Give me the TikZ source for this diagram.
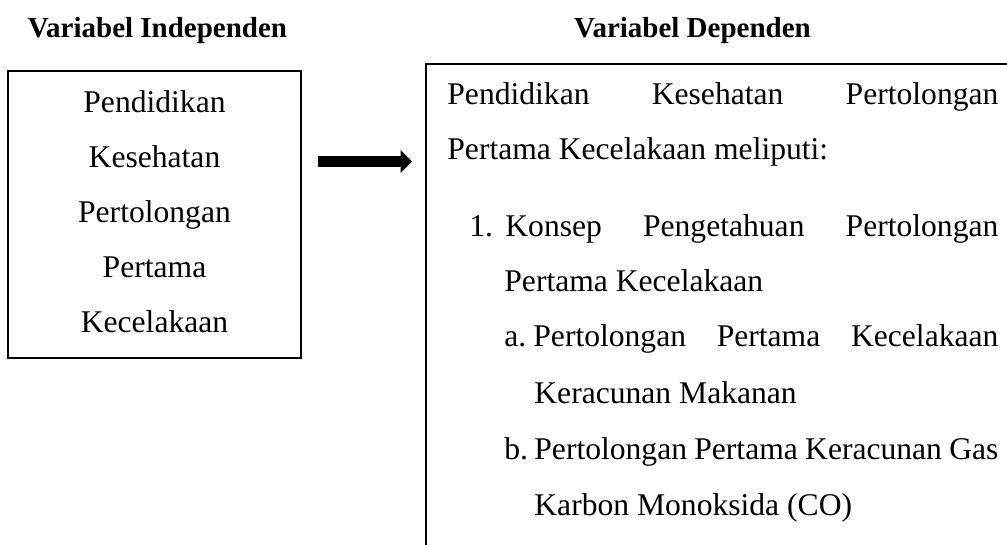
\documentclass[tikz,border=0pt]{standalone}
\usepackage{fontspec}
\setmainfont{Liberation Serif}
\usetikzlibrary{arrows.meta,calc}
\newcommand{\jline}[2]{\hbox to #1{#2}}
\tikzset{
 body/.style={font=\fontsize{15.8}{19}\selectfont, inner sep=0pt, anchor=base west},
 bodyc/.style={font=\fontsize{15.8}{19}\selectfont, inner sep=0pt, anchor=base},
 title/.style={font=\fontsize{14.5}{17}\selectfont\bfseries, inner sep=0pt, anchor=base},
 box/.style={draw, line width=1pt, inner sep=0pt},
 bigarrow/.style={line width=5.35pt, -{Triangle[length=5.75pt,width=11.3pt]}},
}
\begin{document}
\begin{tikzpicture}[x=0.5pt,y=-0.5pt]
\useasboundingbox (0,0) rectangle (1007,545);
\clip (0,0) rectangle (1007,545);
\node[title] (t1) at (157.5,38) {Variabel Independen};
\node[title] (t2) at (692.5,38) {Variabel Dependen};
\node[box, minimum width=146.5pt, minimum height=143.5pt] (L) at (154.5,214.5) {};
\node[box, minimum width=307pt, minimum height=258pt] (R) at (733,322) {};
% left box text
\node[bodyc] (l1) at (154.5,113) {Pendidikan};
\node[bodyc] (l2) at (154.5,168) {Kesehatan};
\node[bodyc] (l3) at (154.5,223) {Pertolongan};
\node[bodyc] (l4) at (154.5,278) {Pertama};
\node[bodyc] (l5) at (154.5,333) {Kecelakaan};
% right box text
\node[body] (r1) at (447,105) {\jline{275.5pt}{Pendidikan\hfill Kesehatan\hfill Pertolongan}};
\node[body] (r2) at (447,160) {Pertama Kecelakaan meliputi:};
\node[body] (n1) at (469,237) {1.};
\node[body] (r3) at (505,237) {\jline{246.5pt}{Konsep\hfill Pengetahuan\hfill Pertolongan}};
\node[body] (r4) at (504,292) {Pertama Kecelakaan};
\node[body] (na) at (504,347) {a.};
\node[body] (r5) at (533,347) {\jline{232.5pt}{Pertolongan\hfill Pertama\hfill Kecelakaan}};
\node[body] (r6) at (534,403) {Keracunan Makanan};
\node[body] (nb) at (504,459) {b.};
\node[body] (r7) at (534,459) {\jline{232pt}{Pertolongan Pertama Keracunan Gas}};
\node[body] (r8) at (534,515) {Karbon Monoksida (CO)};
% arrow
\coordinate (ay) at (0,161.5);
\draw[bigarrow, shorten <=8pt, shorten >=6.5pt] (L.east |- ay) -- (R.west |- ay);
\end{tikzpicture}
\end{document}
